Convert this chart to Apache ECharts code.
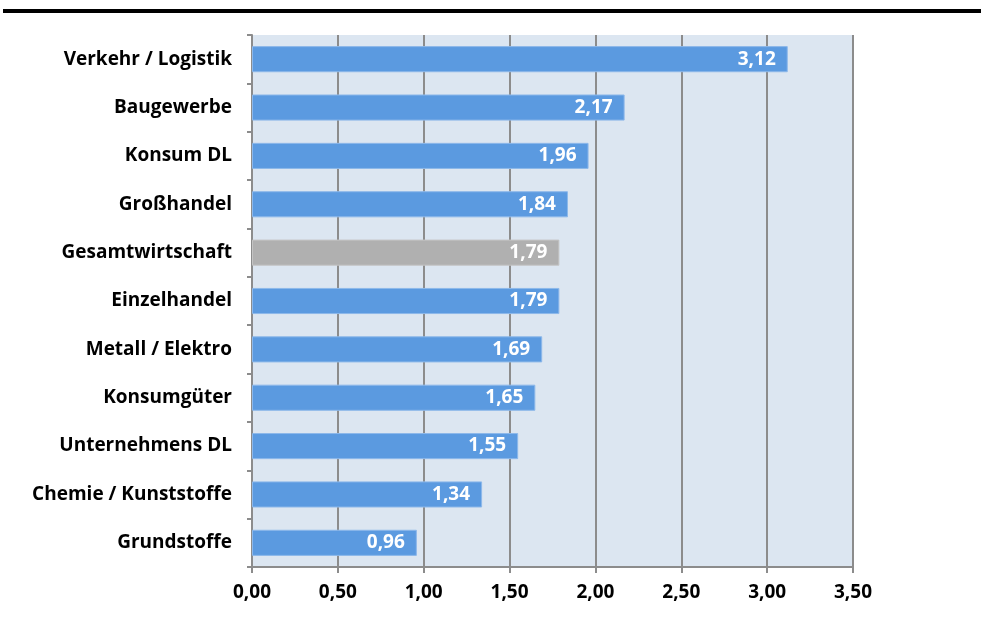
<!DOCTYPE html>
<html>
<head>
<meta charset="utf-8">
<script src="https://cdn.jsdelivr.net/npm/echarts@6/dist/echarts.min.js"></script>
<style>
  html, body { margin: 0; padding: 0; background: #ffffff; }
  #chart { width: 981px; height: 619px; }
</style>
</head>
<body>
<div id="chart"></div>
<script>
// Branches, listed top to bottom
const categories = [
  'Verkehr / Logistik', 'Baugewerbe', 'Konsum DL', 'Großhandel', 'Gesamtwirtschaft',
  'Einzelhandel', 'Metall / Elektro', 'Konsumgüter', 'Unternehmens DL',
  'Chemie / Kunststoffe', 'Grundstoffe'
];
const values = [3.12, 2.17, 1.96, 1.84, 1.79, 1.79, 1.69, 1.65, 1.55, 1.34, 0.96];
const highlighted = 'Gesamtwirtschaft';

const axisMin = 0, axisMax = 3.5, axisStep = 0.5;

const fmt = v => v.toFixed(2).replace('.', ',');
const font = '"Open Sans", Lato, sans-serif';

const chart = echarts.init(document.getElementById('chart'), null, { renderer: 'canvas' });

// category axis runs bottom-up, so reverse to keep the first entry on top
const cats = categories.slice().reverse();
const vals = values.slice().reverse();

chart.setOption({
  animation: false,
  backgroundColor: '#ffffff',
  graphic: [{
    type: 'rect',
    shape: { x: 3, y: 9, width: 978, height: 4 },
    style: { fill: '#000000' }
  }],
  grid: { left: 252, right: 128, top: 35, bottom: 52, containLabel: false,
          show: true, backgroundColor: '#dce6f1', borderWidth: 0 },
  xAxis: {
    type: 'value', min: axisMin, max: axisMax, interval: axisStep,
    axisLine: { show: true, lineStyle: { color: '#8c8c8c', width: 2 } },
    axisTick: { show: true, length: 6, lineStyle: { color: '#8c8c8c', width: 2 } },
    splitLine: { show: true, lineStyle: { color: '#8c8c8c', width: 2 } },
    axisLabel: { formatter: fmt, color: '#000', fontFamily: font, fontWeight: 700,
                 fontSize: 19, margin: 16 }
  },
  yAxis: {
    type: 'category', data: cats,
    axisLine: { show: true, lineStyle: { color: '#8c8c8c', width: 2 } },
    axisTick: { show: true, length: 5, lineStyle: { color: '#8c8c8c', width: 2 } },
    axisLabel: { color: '#000', fontFamily: font, fontWeight: 700, fontSize: 19, margin: 20 }
  },
  series: [{
    type: 'bar',
    barWidth: '54%',
    data: vals.map((v, i) => ({
      value: v,
      itemStyle: cats[i] === highlighted
        ? { color: '#b0b0b0', borderColor: '#c4c4c4', borderWidth: 1 }
        : { color: '#5b9ae0', borderColor: '#8db8ea', borderWidth: 1 }
    })),
    label: {
      show: true, position: 'insideRight', distance: 12,
      formatter: p => fmt(p.value),
      color: '#ffffff', fontFamily: font, fontWeight: 700, fontSize: 19
    }
  }]
});
</script>
</body>
</html>
